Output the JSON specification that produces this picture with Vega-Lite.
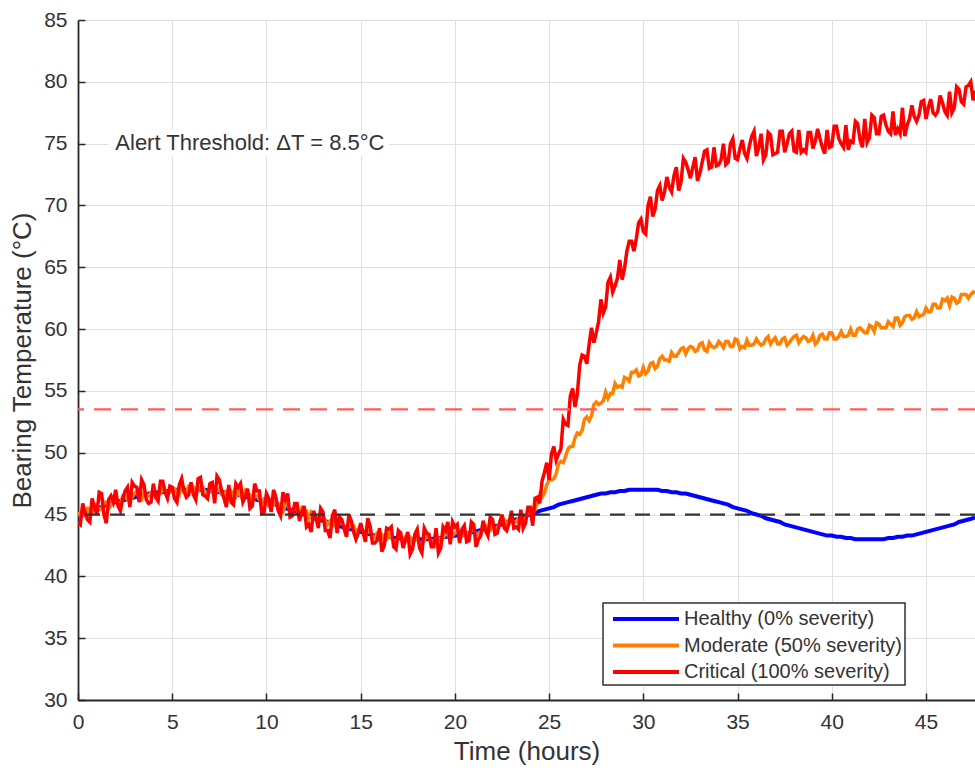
{
"$schema": "https://vega.github.io/schema/vega-lite/v6.json",
"width": 897, "height": 680,
"autosize": {"type": "none"},
"padding": {"left": 78, "top": 20, "right": 0, "bottom": 71},
"background": "white",
"config": {
  "view": {"stroke": null},
  "font": "Liberation Sans",
  "axis": {"grid": true, "gridColor": "#e0e0e0", "gridWidth": 1, "domainColor": "#262626", "domainWidth": 1.8, "tickColor": "#262626", "tickWidth": 1.5, "tickSize": -7, "labelPadding": 18, "labelFlush": false, "labelFont": "Liberation Sans", "labelFontSize": 21, "labelColor": "#333333", "titleFont": "Liberation Sans", "titleFontSize": 26, "titleFontWeight": "normal", "titleColor": "#333333"},
  "legend": {"strokeWidth": 1.5}
},
"datasets": {"series": [
{"t":0,"h":45.0,"m":45.2,"c":44.4},{"t":0.125,"m":44.9,"c":44.2},{"t":0.25,"h":45.1,"m":44.9,"c":45.9},{"t":0.375,"m":45.4,"c":45.1},{"t":0.5,"h":45.3,"m":45.5,"c":44.6},{"t":0.625,"m":45.0,"c":44.4},{"t":0.75,"h":45.4,"m":45.1,"c":46.3},{"t":0.875,"m":45.8,"c":45.6},
{"t":1,"h":45.5,"m":45.8,"c":45.0},{"t":1.125,"m":45.4,"c":46.8},{"t":1.25,"h":45.6,"m":45.4,"c":46.7},{"t":1.375,"m":46.0,"c":45.0},{"t":1.5,"h":45.8,"m":46.0,"c":44.3},{"t":1.625,"m":45.5,"c":46.2},{"t":1.75,"h":45.9,"m":45.7,"c":46.5},{"t":1.875,"m":46.2,"c":46.0},
{"t":2,"h":46.0,"m":46.2,"c":47.0},{"t":2.125,"m":45.9,"c":45.7},{"t":2.25,"h":46.1,"m":45.9,"c":45.3},{"t":2.375,"m":46.5,"c":46.3},{"t":2.5,"h":46.2,"m":46.5,"c":46.9},{"t":2.625,"m":46.2,"c":47.2},{"t":2.75,"h":46.3,"m":46.1,"c":45.6},{"t":2.875,"m":46.4,"c":47.6},
{"t":3,"h":46.4,"m":46.7,"c":47.3},{"t":3.125,"m":46.9,"c":47.2},{"t":3.25,"h":46.5,"m":46.3,"c":46.0},{"t":3.375,"m":46.2,"c":47.8},{"t":3.5,"h":46.6,"m":46.8,"c":47.4},{"t":3.625,"m":46.6,"c":46.2},{"t":3.75,"h":46.7,"m":46.5,"c":45.9},{"t":3.875,"m":46.8,"c":46.0},
{"t":4,"h":46.7,"m":46.9,"c":47.5},{"t":4.125,"m":46.6,"c":46.4},{"t":4.25,"h":46.8,"m":46.6,"c":46.1},{"t":4.375,"m":46.7,"c":47.7},{"t":4.5,"h":46.8,"m":47.1,"c":47.7},{"t":4.625,"m":46.9,"c":46.8},{"t":4.75,"h":46.9,"m":46.7,"c":46.3},{"t":4.875,"m":46.8,"c":47.3},
{"t":5,"h":46.9,"m":47.2,"c":47.2},{"t":5.125,"m":47.1,"c":46.3},{"t":5.25,"h":47.0,"m":46.8,"c":46.0},{"t":5.375,"m":46.6,"c":47.4},{"t":5.5,"h":47.0,"m":47.3,"c":47.9},{"t":5.625,"m":46.8,"c":46.9},{"t":5.75,"h":47.0,"m":46.8,"c":46.4},{"t":5.875,"m":47.3,"c":46.6},
{"t":6,"h":47.0,"m":47.3,"c":47.6},{"t":6.125,"m":47.2,"c":46.6},{"t":6.25,"h":47.0,"m":46.9,"c":46.2},{"t":6.375,"m":46.9,"c":47.9},{"t":6.5,"h":47.0,"m":47.2,"c":48.0},{"t":6.625,"m":47.2,"c":46.6},{"t":6.75,"h":47.0,"m":46.8,"c":46.5},{"t":6.875,"m":46.7,"c":46.3},
{"t":7,"h":46.9,"m":47.2,"c":47.5},{"t":7.125,"m":46.8,"c":47.6},{"t":7.25,"h":46.9,"m":46.6,"c":45.9},{"t":7.375,"m":46.9,"c":48.1},{"t":7.5,"h":46.8,"m":47.1,"c":47.8},{"t":7.625,"m":46.6,"c":46.9},{"t":7.75,"h":46.8,"m":46.5,"c":46.3},{"t":7.875,"m":46.9,"c":45.6},
{"t":8,"h":46.7,"m":47.0,"c":47.4},{"t":8.125,"m":46.9,"c":46.0},{"t":8.25,"h":46.7,"m":46.4,"c":45.8},{"t":8.375,"m":46.4,"c":47.5},{"t":8.5,"h":46.6,"m":46.9,"c":47.2},{"t":8.625,"m":46.5,"c":47.5},{"t":8.75,"h":46.5,"m":46.2,"c":46.0},{"t":8.875,"m":46.9,"c":46.4},
{"t":9,"h":46.4,"m":46.7,"c":47.1},{"t":9.125,"m":46.6,"c":45.5},{"t":9.25,"h":46.3,"m":46.1,"c":45.7},{"t":9.375,"m":46.5,"c":47.5},{"t":9.5,"h":46.2,"m":46.5,"c":46.9},{"t":9.625,"m":46.2,"c":46.9},{"t":9.75,"h":46.1,"m":45.9,"c":45.1},{"t":9.875,"m":46.3,"c":45.2},
{"t":10,"h":46.0,"m":46.3,"c":46.7},{"t":10.125,"m":45.7,"c":46.3},{"t":10.25,"h":45.9,"m":45.7,"c":45.2},{"t":10.375,"m":45.8,"c":47.0},{"t":10.5,"h":45.8,"m":46.0,"c":46.4},{"t":10.625,"m":45.9,"c":45.3},{"t":10.75,"h":45.6,"m":45.4,"c":44.9},{"t":10.875,"m":45.2,"c":46.8},
{"t":11,"h":45.5,"m":45.8,"c":46.2},{"t":11.125,"m":45.9,"c":46.7},{"t":11.25,"h":45.4,"m":45.2,"c":44.8},{"t":11.375,"m":45.2,"c":44.9},{"t":11.5,"h":45.3,"m":45.5,"c":45.9},{"t":11.625,"m":45.4,"c":45.9},{"t":11.75,"h":45.1,"m":44.9,"c":44.5},{"t":11.875,"m":45.5,"c":45.2},
{"t":12,"h":45.0,"m":45.3,"c":45.7},{"t":12.125,"m":45.3,"c":44.0},{"t":12.25,"h":44.9,"m":44.7,"c":44.2},{"t":12.375,"m":45.2,"c":43.6},{"t":12.5,"h":44.7,"m":45.0,"c":45.3},{"t":12.625,"m":44.7,"c":44.8},{"t":12.75,"h":44.6,"m":44.4,"c":43.9},{"t":12.875,"m":45.0,"c":45.5},
{"t":13,"h":44.5,"m":44.8,"c":45.2},{"t":13.125,"m":44.5,"c":43.7},{"t":13.25,"h":44.4,"m":44.2,"c":43.7},{"t":13.375,"m":44.5,"c":43.1},{"t":13.5,"h":44.2,"m":44.5,"c":44.9},{"t":13.625,"m":44.1,"c":45.4},{"t":13.75,"h":44.1,"m":43.9,"c":43.5},{"t":13.875,"m":44.5,"c":44.8},
{"t":14,"h":44.0,"m":44.3,"c":44.6},{"t":14.125,"m":44.1,"c":43.8},{"t":14.25,"h":43.9,"m":43.7,"c":43.2},{"t":14.375,"m":44.0,"c":45.0},{"t":14.5,"h":43.8,"m":44.1,"c":44.5},{"t":14.625,"m":44.1,"c":43.6},{"t":14.75,"h":43.7,"m":43.5,"c":43.0},{"t":14.875,"m":43.8,"c":43.5},
{"t":15,"h":43.6,"m":43.9,"c":44.3},{"t":15.125,"m":43.7,"c":43.6},{"t":15.25,"h":43.5,"m":43.3,"c":42.8},{"t":15.375,"m":43.6,"c":44.7},{"t":15.5,"h":43.4,"m":43.7,"c":44.1},{"t":15.625,"m":43.2,"c":42.7},{"t":15.75,"h":43.3,"m":43.1,"c":42.7},{"t":15.875,"m":43.5,"c":42.9},
{"t":16,"h":43.3,"m":43.5,"c":43.9},{"t":16.125,"m":43.4,"c":42.0},{"t":16.25,"h":43.2,"m":43.0,"c":42.5},{"t":16.375,"m":43.0,"c":43.9},{"t":16.5,"h":43.2,"m":43.4,"c":43.8},{"t":16.625,"m":43.1,"c":44.0},{"t":16.75,"h":43.1,"m":42.9,"c":42.4},{"t":16.875,"m":42.7,"c":42.2},
{"t":17,"h":43.1,"m":43.3,"c":43.7},{"t":17.125,"m":43.3,"c":43.5},{"t":17.25,"h":43.0,"m":42.8,"c":42.3},{"t":17.375,"m":43.2,"c":42.9},{"t":17.5,"h":43.0,"m":43.3,"c":43.6},{"t":17.625,"m":43.2,"c":41.8},{"t":17.75,"h":43.0,"m":42.8,"c":42.2},{"t":17.875,"m":42.9,"c":43.4},
{"t":18,"h":43.0,"m":43.2,"c":43.8},{"t":18.125,"m":42.6,"c":42.3},{"t":18.25,"h":43.0,"m":42.7,"c":41.9},{"t":18.375,"m":42.9,"c":43.9},{"t":18.5,"h":43.0,"m":43.3,"c":43.5},{"t":18.625,"m":43.1,"c":43.4},{"t":18.75,"h":43.0,"m":42.8,"c":42.4},{"t":18.875,"m":42.9,"c":42.4},
{"t":19,"h":43.1,"m":43.3,"c":43.9},{"t":19.125,"m":43.1,"c":41.9},{"t":19.25,"h":43.1,"m":42.9,"c":42.3},{"t":19.375,"m":43.1,"c":44.0},{"t":19.5,"h":43.2,"m":43.4,"c":43.7},{"t":19.625,"m":43.4,"c":44.4},{"t":19.75,"h":43.2,"m":43.0,"c":42.6},{"t":19.875,"m":43.3,"c":44.4},
{"t":20,"h":43.3,"m":43.5,"c":44.0},{"t":20.125,"m":43.7,"c":44.2},{"t":20.25,"h":43.3,"m":43.1,"c":42.7},{"t":20.375,"m":43.3,"c":43.8},{"t":20.5,"h":43.4,"m":43.6,"c":44.1},{"t":20.625,"m":43.5,"c":42.8},{"t":20.75,"h":43.5,"m":43.3,"c":42.9},{"t":20.875,"m":43.7,"c":44.4},
{"t":21,"h":43.6,"m":43.8,"c":44.2},{"t":21.125,"m":43.3,"c":42.4},{"t":21.25,"h":43.7,"m":43.5,"c":43.0},{"t":21.375,"m":43.6,"c":43.3},{"t":21.5,"h":43.8,"m":44.0,"c":44.5},{"t":21.625,"m":44.1,"c":43.7},{"t":21.75,"h":43.9,"m":43.7,"c":43.3},{"t":21.875,"m":43.7,"c":44.8},
{"t":22,"h":44.0,"m":44.2,"c":44.6},{"t":22.125,"m":43.8,"c":43.4},{"t":22.25,"h":44.1,"m":43.9,"c":43.5},{"t":22.375,"m":44.4,"c":44.3},{"t":22.5,"h":44.2,"m":44.4,"c":45.0},{"t":22.625,"m":44.6,"c":43.9},{"t":22.75,"h":44.4,"m":44.2,"c":43.7},{"t":22.875,"m":44.5,"c":44.3},
{"t":23,"h":44.5,"m":44.7,"c":45.3},{"t":23.125,"m":44.4,"c":43.9},{"t":23.25,"h":44.6,"m":44.4,"c":44.0},{"t":23.375,"m":44.7,"c":43.8},{"t":23.5,"h":44.7,"m":44.9,"c":45.4},{"t":23.625,"m":44.5,"c":43.9},{"t":23.75,"h":44.9,"m":44.7,"c":44.3},{"t":23.875,"m":45.1,"c":45.6},
{"t":24,"h":45.0,"m":45.1,"c":45.6},{"t":24.125,"m":45.5,"c":44.1},{"t":24.25,"h":45.1,"m":45.4,"c":46.3},{"t":24.375,"m":45.9,"c":46.4},{"t":24.5,"h":45.3,"m":46.6,"c":45.9},{"t":24.625,"m":46.4,"c":47.7},{"t":24.75,"h":45.4,"m":46.7,"c":48.4},{"t":24.875,"m":47.4,"c":49.2},
{"t":25,"h":45.5,"m":47.8,"c":47.8},{"t":25.125,"m":47.8,"c":49.9},{"t":25.25,"h":45.6,"m":47.9,"c":50.5},{"t":25.375,"m":48.3,"c":49.4},{"t":25.5,"h":45.8,"m":49.1,"c":49.9},{"t":25.625,"m":49.3,"c":50.3},{"t":25.75,"h":45.9,"m":49.2,"c":52.7},{"t":25.875,"m":49.7,"c":52.3},
{"t":26,"h":46.0,"m":50.3,"c":52.2},{"t":26.125,"m":50.5,"c":54.6},{"t":26.25,"h":46.1,"m":50.5,"c":55.2},{"t":26.375,"m":51.2,"c":53.7},{"t":26.5,"h":46.2,"m":51.6,"c":54.8},{"t":26.625,"m":51.5,"c":57.1},{"t":26.75,"h":46.3,"m":51.8,"c":57.9},{"t":26.875,"m":52.7,"c":57.8},
{"t":27,"h":46.4,"m":52.9,"c":57.2},{"t":27.125,"m":52.6,"c":58.8},{"t":27.25,"h":46.5,"m":53.0,"c":60.1},{"t":27.375,"m":53.9,"c":58.9},{"t":27.5,"h":46.6,"m":54.1,"c":59.7},{"t":27.625,"m":53.9,"c":60.6},{"t":27.75,"h":46.7,"m":54.0,"c":62.4},{"t":27.875,"m":54.2,"c":61.3},
{"t":28,"h":46.7,"m":54.9,"c":61.8},{"t":28.125,"m":54.4,"c":63.8},{"t":28.25,"h":46.8,"m":54.8,"c":64.2},{"t":28.375,"m":54.8,"c":63.0},{"t":28.5,"h":46.8,"m":55.6,"c":63.5},{"t":28.625,"m":55.3,"c":64.1},{"t":28.75,"h":46.9,"m":55.4,"c":65.6},{"t":28.875,"m":55.3,"c":64.0},
{"t":29,"h":46.9,"m":56.1,"c":64.9},{"t":29.125,"m":56.0,"c":66.3},{"t":29.25,"h":47.0,"m":55.8,"c":67.1},{"t":29.375,"m":56.5,"c":67.1},{"t":29.5,"h":47.0,"m":56.5,"c":66.3},{"t":29.625,"m":56.7,"c":67.3},{"t":29.75,"h":47.0,"m":56.2,"c":68.6},{"t":29.875,"m":56.3,"c":68.9},
{"t":30,"h":47.0,"m":56.9,"c":67.9},{"t":30.125,"m":56.4,"c":67.7},{"t":30.25,"h":47.0,"m":56.6,"c":70.0},{"t":30.375,"m":57.2,"c":70.7},{"t":30.5,"h":47.0,"m":57.3,"c":69.1},{"t":30.625,"m":56.8,"c":69.7},{"t":30.75,"h":47.0,"m":57.0,"c":71.2},{"t":30.875,"m":57.6,"c":71.6},
{"t":31,"h":46.9,"m":57.8,"c":70.4},{"t":31.125,"m":57.5,"c":71.1},{"t":31.25,"h":46.9,"m":57.5,"c":72.3},{"t":31.375,"m":57.4,"c":71.5},{"t":31.5,"h":46.8,"m":58.1,"c":71.1},{"t":31.625,"m":57.8,"c":72.4},{"t":31.75,"h":46.8,"m":57.8,"c":73.1},{"t":31.875,"m":58.1,"c":71.2},
{"t":32,"h":46.7,"m":58.4,"c":71.9},{"t":32.125,"m":58.5,"c":73.8},{"t":32.25,"h":46.7,"m":58.0,"c":73.5},{"t":32.375,"m":58.4,"c":72.9},{"t":32.5,"h":46.6,"m":58.6,"c":72.2},{"t":32.625,"m":58.5,"c":73.1},{"t":32.75,"h":46.5,"m":58.2,"c":73.9},{"t":32.875,"m":58.3,"c":72.0},
{"t":33,"h":46.4,"m":58.8,"c":72.6},{"t":33.125,"m":58.9,"c":73.5},{"t":33.25,"h":46.3,"m":58.3,"c":74.4},{"t":33.375,"m":58.2,"c":74.5},{"t":33.5,"h":46.2,"m":58.9,"c":73.0},{"t":33.625,"m":58.6,"c":73.1},{"t":33.75,"h":46.1,"m":58.5,"c":74.7},{"t":33.875,"m":58.6,"c":73.2},
{"t":34,"h":46.0,"m":59.0,"c":73.3},{"t":34.125,"m":58.8,"c":73.7},{"t":34.25,"h":45.9,"m":58.5,"c":75.0},{"t":34.375,"m":59.0,"c":73.3},{"t":34.5,"h":45.8,"m":59.0,"c":73.5},{"t":34.625,"m":58.6,"c":75.0},{"t":34.75,"h":45.6,"m":58.6,"c":75.4},{"t":34.875,"m":59.2,"c":73.8},
{"t":35,"h":45.5,"m":59.1,"c":73.7},{"t":35.125,"m":58.4,"c":74.6},{"t":35.25,"h":45.4,"m":58.6,"c":75.3},{"t":35.375,"m":58.5,"c":74.2},{"t":35.5,"h":45.3,"m":59.1,"c":73.8},{"t":35.625,"m":58.7,"c":74.8},{"t":35.75,"h":45.1,"m":58.7,"c":75.6},{"t":35.875,"m":58.8,"c":76.0},
{"t":36,"h":45.0,"m":59.2,"c":74.0},{"t":36.125,"m":58.9,"c":74.7},{"t":36.25,"h":44.9,"m":58.7,"c":75.8},{"t":36.375,"m":58.8,"c":73.7},{"t":36.5,"h":44.7,"m":59.2,"c":74.1},{"t":36.625,"m":59.4,"c":75.9},{"t":36.75,"h":44.6,"m":58.8,"c":75.7},{"t":36.875,"m":59.1,"c":74.1},
{"t":37,"h":44.5,"m":59.3,"c":74.2},{"t":37.125,"m":58.8,"c":74.3},{"t":37.25,"h":44.4,"m":58.8,"c":76.0},{"t":37.375,"m":59.2,"c":76.0},{"t":37.5,"h":44.2,"m":59.3,"c":74.3},{"t":37.625,"m":58.7,"c":75.0},{"t":37.75,"h":44.1,"m":58.9,"c":75.8},{"t":37.875,"m":59.2,"c":76.0},
{"t":38,"h":44.0,"m":59.4,"c":74.4},{"t":38.125,"m":59.5,"c":74.3},{"t":38.25,"h":43.9,"m":58.9,"c":76.1},{"t":38.375,"m":59.2,"c":74.3},{"t":38.5,"h":43.8,"m":59.4,"c":74.5},{"t":38.625,"m":59.3,"c":74.3},{"t":38.75,"h":43.7,"m":59.0,"c":75.9},{"t":38.875,"m":59.1,"c":75.9},
{"t":39,"h":43.6,"m":59.5,"c":74.6},{"t":39.125,"m":58.8,"c":75.2},{"t":39.25,"h":43.5,"m":59.0,"c":76.2},{"t":39.375,"m":59.5,"c":75.4},{"t":39.5,"h":43.4,"m":59.6,"c":74.7},{"t":39.625,"m":59.2,"c":74.2},{"t":39.75,"h":43.3,"m":59.2,"c":76.1},{"t":39.875,"m":59.7,"c":74.7},
{"t":40,"h":43.3,"m":59.7,"c":74.8},{"t":40.125,"m":59.2,"c":76.4},{"t":40.25,"h":43.2,"m":59.2,"c":76.4},{"t":40.375,"m":59.4,"c":75.4},{"t":40.5,"h":43.2,"m":59.8,"c":75.0},{"t":40.625,"m":59.4,"c":74.7},{"t":40.75,"h":43.1,"m":59.4,"c":76.5},{"t":40.875,"m":59.5,"c":74.5},
{"t":41,"h":43.1,"m":60.0,"c":75.2},{"t":41.125,"m":59.5,"c":75.1},{"t":41.25,"h":43.0,"m":59.5,"c":76.8},{"t":41.375,"m":60.0,"c":76.6},{"t":41.5,"h":43.0,"m":60.1,"c":75.3},{"t":41.625,"m":59.9,"c":74.7},{"t":41.75,"h":43.0,"m":59.7,"c":77.0},{"t":41.875,"m":59.7,"c":75.1},
{"t":42,"h":43.0,"m":60.3,"c":75.5},{"t":42.125,"m":60.2,"c":77.3},{"t":42.25,"h":43.0,"m":59.8,"c":77.1},{"t":42.375,"m":60.5,"c":75.8},{"t":42.5,"h":43.0,"m":60.4,"c":75.8},{"t":42.625,"m":60.1,"c":77.2},{"t":42.75,"h":43.0,"m":60.1,"c":77.3},{"t":42.875,"m":60.1,"c":76.5},
{"t":43,"h":43.1,"m":60.6,"c":76.0},{"t":43.125,"m":60.4,"c":75.8},{"t":43.25,"h":43.1,"m":60.2,"c":77.6},{"t":43.375,"m":60.9,"c":75.7},{"t":43.5,"h":43.2,"m":60.9,"c":76.2},{"t":43.625,"m":60.3,"c":75.8},{"t":43.75,"h":43.2,"m":60.5,"c":77.9},{"t":43.875,"m":61.0,"c":75.6},
{"t":44,"h":43.3,"m":61.1,"c":76.5},{"t":44.125,"m":61.1,"c":77.0},{"t":44.25,"h":43.3,"m":60.8,"c":78.1},{"t":44.375,"m":60.9,"c":77.2},{"t":44.5,"h":43.4,"m":61.4,"c":76.8},{"t":44.625,"m":61.0,"c":77.3},{"t":44.75,"h":43.5,"m":61.1,"c":78.4},{"t":44.875,"m":61.2,"c":78.5},
{"t":45,"h":43.6,"m":61.7,"c":77.0},{"t":45.125,"m":61.4,"c":77.9},{"t":45.25,"h":43.7,"m":61.4,"c":78.6},{"t":45.375,"m":62.0,"c":77.5},{"t":45.5,"h":43.8,"m":62.0,"c":77.3},{"t":45.625,"m":61.7,"c":77.6},{"t":45.75,"h":43.9,"m":61.7,"c":78.9},{"t":45.875,"m":62.4,"c":78.3},
{"t":46,"h":44.0,"m":62.3,"c":77.6},{"t":46.125,"m":62.5,"c":77.3},{"t":46.25,"h":44.1,"m":61.9,"c":79.2},{"t":46.375,"m":62.6,"c":77.5},{"t":46.5,"h":44.2,"m":62.5,"c":77.9},{"t":46.625,"m":62.1,"c":79.6},{"t":46.75,"h":44.4,"m":62.2,"c":79.4},{"t":46.875,"m":62.8,"c":78.4},
{"t":47,"h":44.5,"m":62.8,"c":78.2},{"t":47.125,"m":62.8,"c":79.6},{"t":47.25,"h":44.6,"m":62.5,"c":79.7},{"t":47.375,"m":62.8,"c":80.0},{"t":47.5,"h":44.7,"m":63.0,"c":78.5},{"t":47.6,"h":44.8,"m":62.9,"c":79.3}
]},
"layer": [
  {"data": {"name": "series"},
   "transform": [{"fold": ["h", "m", "c"], "as": ["key", "value"]}, {"filter": "datum.key == 'h' && isValid(datum.value)"}],
   "mark": {"type": "line", "strokeWidth": 4, "clip": true},
   "encoding": {
     "x": {"field": "t", "type": "quantitative", "scale": {"domain": [0, 47.6], "nice": false, "zero": false}, "axis": {"values": [0,5,10,15,20,25,30,35,40,45], "title": "Time (hours)", "titlePadding": 6}},
     "y": {"field": "value", "type": "quantitative", "scale": {"domain": [30, 85], "nice": false, "zero": false}, "axis": {"values": [30,35,40,45,50,55,60,65,70,75,80,85], "title": "Bearing Temperature (°C)", "titlePadding": 8}},
     "color": {"field": "key", "type": "nominal", "scale": {"domain": ["h", "m", "c"], "range": ["#0000ff", "#ff8000", "#ff0000"]},
       "legend": {"title": null, "orient": "none", "legendX": 525, "legendY": 583, "direction": "vertical", "symbolType": "M-3,0H3", "symbolStrokeWidth": 4, "symbolSize": 484, "symbolOffset": 27, "labelOffset": 25, "rowPadding": 3.5, "labelFont": "Liberation Sans", "labelFontSize": 20, "labelLimit": 400, "labelColor": "#333333", "strokeColor": "#333333", "fillColor": "white", "padding": 3,
         "labelExpr": "datum.value == 'h' ? 'Healthy (0% severity)' : datum.value == 'm' ? 'Moderate (50% severity)' : 'Critical (100% severity)'"}}
   }},
  {"data": {"name": "series"},
   "transform": [{"fold": ["h", "m", "c"], "as": ["key", "value"]}, {"filter": "datum.key == 'm' && isValid(datum.value)"}],
   "mark": {"type": "line", "strokeWidth": 3.5, "clip": true},
   "encoding": {
     "x": {"field": "t", "type": "quantitative"},
     "y": {"field": "value", "type": "quantitative"},
     "color": {"field": "key", "type": "nominal"}
   }},
  {"data": {"name": "series"},
   "transform": [{"fold": ["h", "m", "c"], "as": ["key", "value"]}, {"filter": "datum.key == 'c' && isValid(datum.value)"}],
   "mark": {"type": "line", "strokeWidth": 3.5, "clip": true},
   "encoding": {
     "x": {"field": "t", "type": "quantitative"},
     "y": {"field": "value", "type": "quantitative"},
     "color": {"field": "key", "type": "nominal"}
   }},
  {"data": {"values": [{}]},
   "mark": {"type": "rule", "color": "#ff5c5c", "strokeWidth": 2.2, "strokeDash": [17, 10]},
   "encoding": {"y": {"datum": 53.5}}},
  {"data": {"values": [{}]},
   "mark": {"type": "rule", "color": "#333333", "strokeWidth": 2.2, "strokeDash": [15, 10]},
   "encoding": {"y": {"datum": 45}}},
  {"data": {"values": [{}]},
   "mark": {"type": "rect", "fill": "white"},
   "encoding": {"x": {"datum": 1.6}, "x2": {"datum": 16.5}, "y": {"datum": 74.0}, "y2": {"datum": 76.1}}},
  {"data": {"values": [{}]},
   "mark": {"type": "text", "fontSize": 22, "color": "#333333", "font": "Liberation Sans"},
   "encoding": {"x": {"datum": 9.12}, "y": {"datum": 75.05}, "text": {"value": "Alert Threshold: ΔT = 8.5°C"}}}
]
}
